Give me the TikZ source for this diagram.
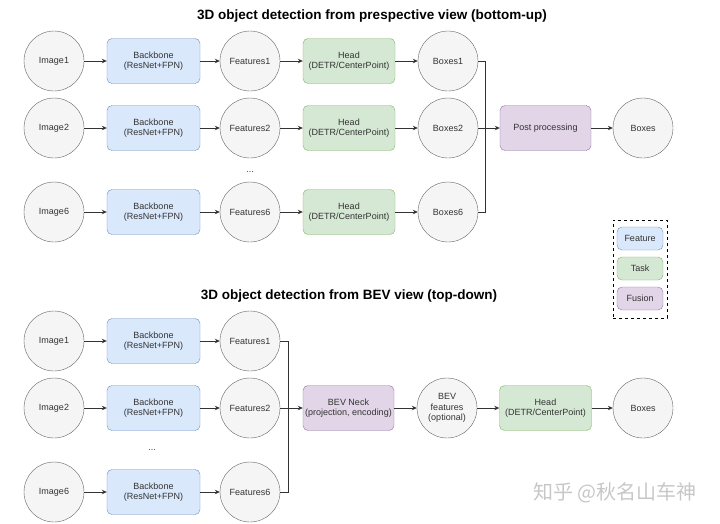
\documentclass[tikz,border=0pt]{standalone}
\usepackage{fontspec}
\setmainfont{Liberation Sans}
\newfontfamily\cjkfont{Noto Sans CJK SC}
\usetikzlibrary{arrows.meta}
\definecolor{txt}{HTML}{333333}
\definecolor{circfill}{HTML}{F5F5F5}
\definecolor{circline}{HTML}{666666}
\definecolor{bluefill}{HTML}{DAE8FC}
\definecolor{blueline}{HTML}{6C8EBF}
\definecolor{greenfill}{HTML}{D5E8D4}
\definecolor{greenline}{HTML}{82B366}
\definecolor{purplefill}{HTML}{E1D5E7}
\definecolor{purpleline}{HTML}{9673A6}
\tikzset{
  x=1pt, y=-1pt,
  every node/.style={text=txt, font=\fontsize{9}{10.5}\selectfont, align=center},
  circ/.style={circle, draw=circline, fill=circfill, minimum size=60pt, inner sep=0pt},
  feat/.style={rectangle, rounded corners=5pt, draw=blueline, fill=bluefill, minimum width=93pt, minimum height=45pt, inner sep=1pt},
  task/.style={rectangle, rounded corners=5pt, draw=greenline, fill=greenfill, minimum width=92pt, minimum height=45pt, inner sep=1pt},
  fus/.style={rectangle, rounded corners=5pt, draw=purpleline, fill=purplefill, minimum width=91pt, minimum height=45pt, inner sep=1pt},
  legfeat/.style={feat, minimum width=46pt, minimum height=23pt},
  legtask/.style={task, minimum width=46pt, minimum height=23pt},
  legfus/.style={fus, minimum width=46pt, minimum height=23pt},
  conn/.style={draw=txt, line width=0.7pt, -{Stealth[length=5pt,width=4.5pt]}},
  plain/.style={draw=txt, line width=0.7pt},
  ttl/.style={font=\bfseries\fontsize{13.5}{15}\selectfont, text=black},
}
\begin{document}
\begin{tikzpicture}
\useasboundingbox (0,0) rectangle (720,523);
% ---------------- top ----------------
\node[ttl] (t1) at (372,16) {3D object detection from prespective view (bottom-up)};
\foreach \r/\y/\n in {1/61/1, 2/128/2, 3/212/6}{
  \node[circ] (img\r) at (54,\y) {Image\n};
  \node[feat] (bb\r) at (153.5,\y) {Backbone\\(ResNet+FPN)};
  \node[circ] (fe\r) at (250,\y) {Features\n};
  \node[task] (hd\r) at (349,\y) {Head\\(DETR/CenterPoint)};
  \node[circ] (bx\r) at (448,\y) {Boxes\n};
  \draw[conn] (img\r) -- (bb\r);
  \draw[conn] (bb\r) -- (fe\r);
  \draw[conn] (fe\r) -- (hd\r);
  \draw[conn] (hd\r) -- (bx\r);
}
\node (dots1) at (250,172) {...};
\node[fus] (pp) at (545.5,128) {Post processing};
\node[circ] (box) at (643,128) {Boxes};
\coordinate (bus1) at (485,128);
\draw[plain] (bx1.east) -| (bus1);
\draw[plain] (bx3.east) -| (bus1);
\draw[conn] (bx2) -- (pp);
\draw[conn] (pp) -- (box);
% legend
\node[draw=black, dashed, line width=0.6pt, minimum width=54pt, minimum height=98pt] (leg) at (640,269) {};
\node[legfeat] (lf) at (640,238.5) {Feature};
\node[legtask] (lt) at (640,268.5) {Task};
\node[legfus] (lu) at (640,298.5) {Fusion};
% ---------------- bottom ----------------
\node[ttl] (t2) at (349,296) {3D object detection from BEV view (top-down)};
\foreach \r/\y/\n in {1/341/1, 2/408/2, 3/492/6}{
  \node[circ] (bimg\r) at (54,\y) {Image\n};
  \node[feat] (bbb\r) at (153.5,\y) {Backbone\\(ResNet+FPN)};
  \node[circ] (bfe\r) at (250,\y) {Features\n};
  \draw[conn] (bimg\r) -- (bbb\r);
  \draw[conn] (bbb\r) -- (bfe\r);
}
\node (dots2) at (152,450) {...};
\node[fus] (neck) at (348.5,408) {BEV Neck\\(projection, encoding)};
\node[circ] (bevf) at (447,408) {BEV\\features\\(optional)};
\node[task] (bhd) at (545.5,408) {Head\\(DETR/CenterPoint)};
\node[circ] (bbox) at (643,408) {Boxes};
\coordinate (bus2) at (288,408);
\draw[plain] (bfe1.east) -| (bus2);
\draw[plain] (bfe3.east) -| (bus2);
\draw[conn] (bfe2) -- (neck);
\draw[conn] (neck) -- (bevf);
\draw[conn] (bevf) -- (bhd);
\draw[conn] (bhd) -- (bbox);
% watermark
\node[text=black!22, font=\cjkfont\fontsize{20}{22}\selectfont] (wm) at (615,493) {知乎 @秋名山车神};
\end{tikzpicture}
\end{document}
